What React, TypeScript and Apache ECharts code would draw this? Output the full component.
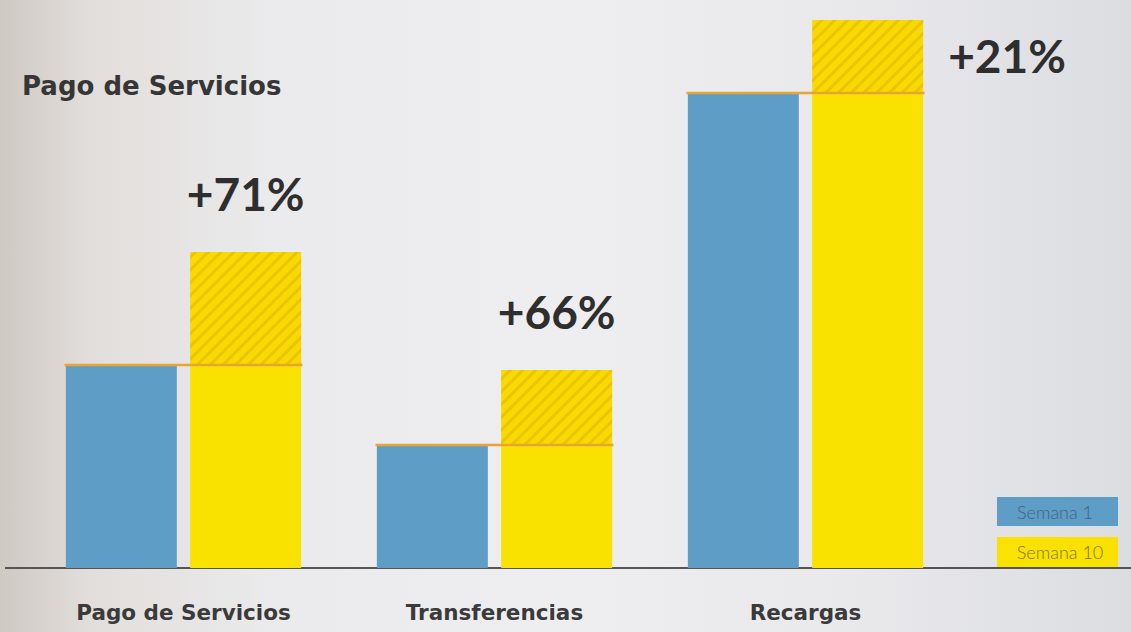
import React, { useEffect, useRef } from "react";
import * as echarts from "echarts";

const categories = ["Pago de Servicios", "Transferencias", "Recargas"];
const semana1 = [203, 123, 475];
const semana10 = [316, 198, 548];
const growthLabels = ["+71%", "+66%", "+21%"];
const legendNames = ["Semana 1", "Semana 10"];
const titleText = "Pago de Servicios";

const BLUE = "#5e9dc6";
const YELLOW = "#fae200";
const HATCH = "#f8da00";
const ORANGE = "#e9a436";

export default function App() {
  const ref = useRef<HTMLDivElement>(null);
  useEffect(() => {
    if (!ref.current) return;
    const chart = echarts.init(ref.current, undefined, { renderer: "svg" });
    const increments = semana10.map((v, i) => v - semana1[i]);
    chart.setOption({
      animation: false,
      backgroundColor: "transparent",
      title: {
        text: titleText,
        left: 22,
        top: 73,
        padding: 0,
        textStyle: { fontFamily: "DejaVu Sans", fontSize: 26, fontWeight: "bold", color: "#363636" },
      },
      grid: { left: 28, right: 170, top: 20, bottom: 64 },
      xAxis: {
        type: "category",
        data: categories,
        axisLine: { show: false },
        axisTick: { show: false },
        axisLabel: {
          margin: 33,
          fontFamily: "DejaVu Sans",
          fontSize: 21.5,
          fontWeight: "bold",
          color: "#3a3a3a",
        },
      },
      yAxis: { type: "value", min: 0, max: 548, show: false, splitLine: { show: false } },
      series: [
        {
          name: legendNames[0],
          type: "bar",
          stack: "s1",
          data: semana1,
          barWidth: 111,
          barGap: "12%",
          itemStyle: { color: BLUE },
        },
        {
          name: legendNames[1],
          type: "bar",
          stack: "s10",
          data: semana1,
          barWidth: 111,
          itemStyle: { color: YELLOW },
        },
        {
          name: legendNames[1] + " incremento",
          type: "bar",
          stack: "s10",
          barWidth: 111,
          itemStyle: {
            color: HATCH,
            decal: {
              symbol: "rect",
              symbolSize: 1,
              dashArrayX: [1, 0],
              dashArrayY: [3, 6],
              rotation: -Math.PI / 4,
              color: "rgba(220,170,0,0.45)",
            },
          },
          data: increments.map((v, i) => ({
            value: v,
            label:
              i < 2
                ? {
                    show: true,
                    position: "top",
                    distance: 36,
                    formatter: growthLabels[i],
                  }
                : {
                    show: true,
                    position: [136, 12],
                    align: "left",
                    verticalAlign: "top",
                    formatter: growthLabels[i],
                  },
          })),
          label: {
            fontFamily: "Lato",
            fontSize: 46,
            fontWeight: "bold",
            color: "#2e2e2e",
          },
        },
        {
          type: "custom",
          z: 5,
          data: semana1.map((v, i) => [i, v]),
          renderItem: (params: any, api: any) => {
            const p = api.coord([api.value(0), api.value(1)]);
            return {
              type: "line",
              shape: { x1: p[0] - 119, y1: p[1], x2: p[0] + 119, y2: p[1] },
              style: { stroke: ORANGE, lineWidth: 2.5 },
            };
          },
        },
      ],
      graphic: [
        {
          type: "line",
          shape: { x1: 5, y1: 568, x2: 1131, y2: 568 },
          style: { stroke: "#555555", lineWidth: 2 },
        },
        {
          type: "rect",
          shape: { x: 997, y: 497, width: 121, height: 29 },
          style: { fill: BLUE },
        },
        {
          type: "text",
          x: 1055,
          y: 512,
          style: {
            text: legendNames[0],
            fill: "#3f6580",
            fontFamily: "Lato",
            fontWeight: 300,
            fontSize: 18,
            align: "center",
            verticalAlign: "middle",
          },
        },
        {
          type: "rect",
          shape: { x: 997, y: 537, width: 121, height: 30 },
          style: { fill: YELLOW },
        },
        {
          type: "text",
          x: 1060,
          y: 552,
          style: {
            text: legendNames[1],
            fill: "#857420",
            fontFamily: "Lato",
            fontWeight: 300,
            fontSize: 18,
            align: "center",
            verticalAlign: "middle",
          },
        },
      ],
    });
    return () => chart.dispose();
  }, []);
  return (
    <div
      style={{
        position: "fixed",
        left: 0,
        top: 0,
        width: 1131,
        height: 632,
        background:
          "linear-gradient(90deg, #cfc9c4 0%, #e2dedb 8%, #ebebed 25%, #eeeef0 50%, #e9e9ec 75%, #dcdde1 100%)",
      }}
    >
      <div ref={ref} style={{ width: 1131, height: 632 }} />
    </div>
  );
}
